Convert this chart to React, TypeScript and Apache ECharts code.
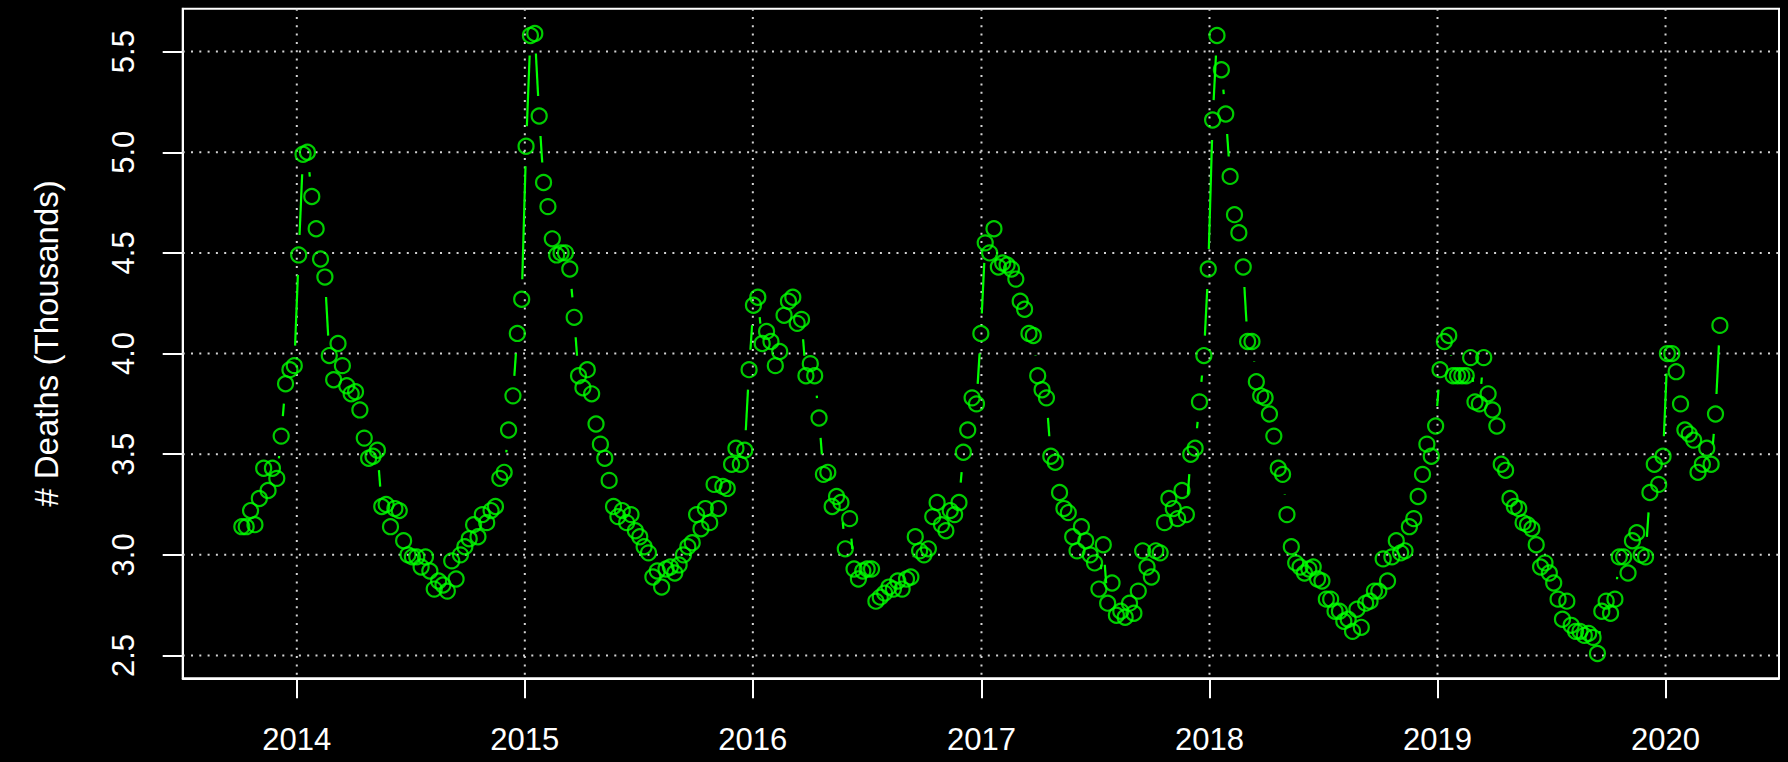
import React, { useEffect, useRef } from "react";
import * as echarts from "echarts";

// Weekly deaths (thousands), week ending Saturday, starting 2013-10-05
const START_YEAR = 2013;
const START_MONTH = 9; // October (0-based)
const START_DAY = 5;

const deathsLate2013 = [3.14, 3.14, 3.22, 3.15, 3.28, 3.43, 3.32, 3.43, 3.38, 3.59, 3.85, 3.92, 3.94];
const deaths2014 = [
  4.49, 4.99, 5.0, 4.78, 4.62, 4.47, 4.38, 3.99, 3.87, 4.05, 3.94, 3.84, 3.8, 3.81, 3.72, 3.58, 3.48, 3.49,
  3.52, 3.24, 3.25, 3.14, 3.23, 3.22, 3.07, 3.0, 2.99, 2.99, 2.94, 2.99, 2.92, 2.83, 2.87, 2.85, 2.82, 2.97,
  2.88, 3.0, 3.04, 3.08, 3.15, 3.09, 3.2, 3.16, 3.22, 3.24, 3.38, 3.41, 3.62, 3.79, 4.1, 4.27,
];
const deaths2015 = [
  5.03, 5.58, 5.59, 5.18, 4.85, 4.73, 4.57, 4.49, 4.5, 4.5, 4.42, 4.18, 3.89, 3.83, 3.92, 3.8, 3.65, 3.55,
  3.48, 3.37, 3.24, 3.19, 3.22, 3.16, 3.2, 3.12, 3.09, 3.04, 3.01, 2.89, 2.92, 2.84, 2.93, 2.94, 2.91, 2.95,
  3.0, 3.04, 3.06, 3.2, 3.13, 3.23, 3.16, 3.35, 3.23, 3.34, 3.33, 3.45, 3.53, 3.45, 3.52, 3.92,
];
const deaths2016 = [
  4.24, 4.28, 4.05, 4.11, 4.06, 3.94, 4.01, 4.19, 4.26, 4.28, 4.15, 4.17, 3.89, 3.95, 3.89, 3.68, 3.4, 3.41,
  3.24, 3.29, 3.26, 3.03, 3.18, 2.93, 2.88, 2.92, 2.93, 2.93, 2.77, 2.79, 2.81, 2.84, 2.83, 2.87, 2.83, 2.88,
  2.89, 3.09, 3.02, 3.0, 3.03, 3.19, 3.26, 3.15, 3.12, 3.22, 3.2, 3.26, 3.51, 3.62, 3.78, 3.75,
];
const deaths2017 = [
  4.1, 4.55, 4.5, 4.62, 4.43, 4.45, 4.44, 4.42, 4.37, 4.26, 4.22, 4.1, 4.09, 3.89, 3.82, 3.78, 3.49, 3.46,
  3.31, 3.23, 3.21, 3.09, 3.02, 3.14, 3.07, 3.0, 2.96, 2.83, 3.05, 2.76, 2.86, 2.7, 2.72, 2.69, 2.76, 2.71,
  2.82, 3.02, 2.94, 2.89, 3.02, 3.01, 3.16, 3.28, 3.23, 3.18, 3.32, 3.2, 3.5, 3.53, 3.76, 3.99,
];
const deaths2018 = [
  4.42, 5.16, 5.58, 5.41, 5.19, 4.88, 4.69, 4.6, 4.43, 4.06, 4.06, 3.86, 3.79, 3.78, 3.7, 3.59, 3.43, 3.4,
  3.2, 3.04, 2.96, 2.94, 2.91, 2.93, 2.94, 2.88, 2.87, 2.78, 2.78, 2.72, 2.72, 2.67, 2.68, 2.62, 2.73, 2.64,
  2.76, 2.77, 2.82, 2.82, 2.98, 2.87, 2.99, 3.07, 3.01, 3.02, 3.14, 3.18, 3.29, 3.4, 3.55, 3.49,
];
const deaths2019 = [
  3.64, 3.92, 4.06, 4.09, 3.89, 3.89, 3.89, 3.89, 3.98, 3.76, 3.75, 3.98, 3.8, 3.72, 3.64, 3.45, 3.42, 3.28,
  3.24, 3.23, 3.16, 3.15, 3.13, 3.05, 2.94, 2.96, 2.91, 2.86, 2.78, 2.68, 2.77, 2.65, 2.62, 2.62, 2.6, 2.61,
  2.59, 2.51, 2.72, 2.77, 2.71, 2.78, 2.99, 2.99, 2.91, 3.07, 3.11, 3.0, 2.99, 3.31, 3.45, 3.35,
];
const deathsEarly2020 = [3.49, 4.0, 4.0, 3.91, 3.75, 3.62, 3.6, 3.57, 3.41, 3.45, 3.53, 3.45, 3.7, 4.14];

const xTickYears = [2014, 2015, 2016, 2017, 2018, 2019, 2020];
const yTicks = [2.5, 3.0, 3.5, 4.0, 4.5, 5.0, 5.5];
const yTitle = "# Deaths (Thousands)";

const GREEN = "#00ff00";
const WHITE = "#ffffff";
const GRID_COLOR = "#d3d3d3";
const FONT = "'Liberation Sans', Arial, Helvetica, sans-serif";
const DAY_MS = 86400000;

export default function App() {
  const ref = useRef<HTMLDivElement>(null);

  useEffect(() => {
    if (!ref.current) return;
    const chart = echarts.init(ref.current, null, { renderer: "svg" });

    const values = [
      ...deathsLate2013,
      ...deaths2014,
      ...deaths2015,
      ...deaths2016,
      ...deaths2017,
      ...deaths2018,
      ...deaths2019,
      ...deathsEarly2020,
    ];
    const t0 = Date.UTC(START_YEAR, START_MONTH, START_DAY) / DAY_MS;
    const pts = values.map((v, i) => [t0 + 7 * i, v]);
    const xFirst = pts[0][0];
    const xLast = pts[pts.length - 1][0];
    const xPad = 0.04 * (xLast - xFirst);
    const yMin = Math.min(...values);
    const yMax = Math.max(...values);
    const yPad = 0.04 * (yMax - yMin);
    const axisXMin = xFirst - xPad;
    const axisXMax = xLast + xPad;
    const axisYMin = yMin - yPad;
    const axisYMax = yMax + yPad;

    const segs = pts.slice(1).map((p, i) => [pts[i][0], pts[i][1], p[0], p[1]]);
    const xTickDays = xTickYears.map((y) => Date.UTC(y, 0, 1) / DAY_MS);
    const gridData = [
      ...xTickDays.map((d) => [0, d]),
      ...yTicks.map((v) => [1, v]),
    ];

    const GAP = 20;

    chart.setOption({
      animation: false,
      backgroundColor: "#000000",
      grid: {
        left: 182.7,
        top: 8.7,
        right: 9,
        bottom: 83.7,
        show: true,
        borderColor: WHITE,
        borderWidth: 2,
        backgroundColor: "transparent",
        containLabel: false,
        outerBoundsMode: "none",
      },
      xAxis: {
        type: "value",
        min: axisXMin,
        max: axisXMax,
        axisLine: { show: true, lineStyle: { color: WHITE, width: 2 } },
        axisTick: {
          show: true,
          length: 20,
          lineStyle: { color: WHITE, width: 2 },
          customValues: xTickDays,
        },
        axisLabel: {
          customValues: xTickDays,
          formatter: (v: number) => String(new Date(v * DAY_MS).getUTCFullYear()),
          color: WHITE,
          fontSize: 31,
          fontFamily: FONT,
          margin: 46,
        },
        splitLine: { show: false },
      },
      yAxis: {
        type: "value",
        min: axisYMin,
        max: axisYMax,
        name: yTitle,
        nameLocation: "middle",
        nameGap: 120,
        nameTextStyle: { color: WHITE, fontSize: 33, fontFamily: FONT },
        axisLine: { show: true, lineStyle: { color: WHITE, width: 2 } },
        axisTick: {
          show: true,
          length: 20,
          lineStyle: { color: WHITE, width: 2 },
          customValues: yTicks,
        },
        axisLabel: {
          customValues: yTicks,
          rotate: 90,
          formatter: (v: number) => v.toFixed(1),
          color: WHITE,
          fontSize: 31,
          fontFamily: FONT,
          margin: 44,
        },
        splitLine: { show: false },
      },
      series: [
        {
          type: "custom",
          name: "grid",
          silent: true,
          z: 1,
          data: gridData,
          renderItem: (params: any, api: any) => {
            const kind = api.value(0);
            const v = api.value(1);
            const cs = params.coordSys;
            const style = { stroke: GRID_COLOR, lineWidth: 2, lineDash: [2, 6.3] };
            if (kind === 0) {
              const p = api.coord([v, axisYMin]);
              return {
                type: "line",
                shape: { x1: p[0], y1: cs.y, x2: p[0], y2: cs.y + cs.height },
                style,
              };
            }
            const p = api.coord([axisXMin, v]);
            return {
              type: "line",
              shape: { x1: cs.x, y1: p[1], x2: cs.x + cs.width, y2: p[1] },
              style,
            };
          },
        },
        {
          type: "custom",
          name: "segments",
          silent: true,
          z: 2,
          encode: { x: [0, 2], y: [1, 3] },
          data: segs,
          renderItem: (_params: any, api: any) => {
            const a = api.coord([api.value(0), api.value(1)]);
            const b = api.coord([api.value(2), api.value(3)]);
            const dx = b[0] - a[0];
            const dy = b[1] - a[1];
            const dist = Math.hypot(dx, dy);
            const f = GAP / dist;
            if (!(f < 0.5)) return { type: "group", children: [] };
            return {
              type: "line",
              shape: {
                x1: a[0] + f * dx,
                y1: a[1] + f * dy,
                x2: b[0] - f * dx,
                y2: b[1] - f * dy,
              },
              style: { stroke: GREEN, lineWidth: 2.2 },
            };
          },
        },
        {
          type: "scatter",
          name: "deaths",
          z: 3,
          symbol: "circle",
          symbolSize: 15,
          data: pts,
          itemStyle: { color: "rgba(0,0,0,0)", borderColor: GREEN, borderWidth: 2.2 },
        },
      ],
    });

    return () => {
      chart.dispose();
    };
  }, []);

  return (
    <div
      ref={ref}
      style={{
        position: "fixed",
        left: 0,
        top: 0,
        width: 1788,
        height: 762,
        background: "#000000",
      }}
    />
  );
}
